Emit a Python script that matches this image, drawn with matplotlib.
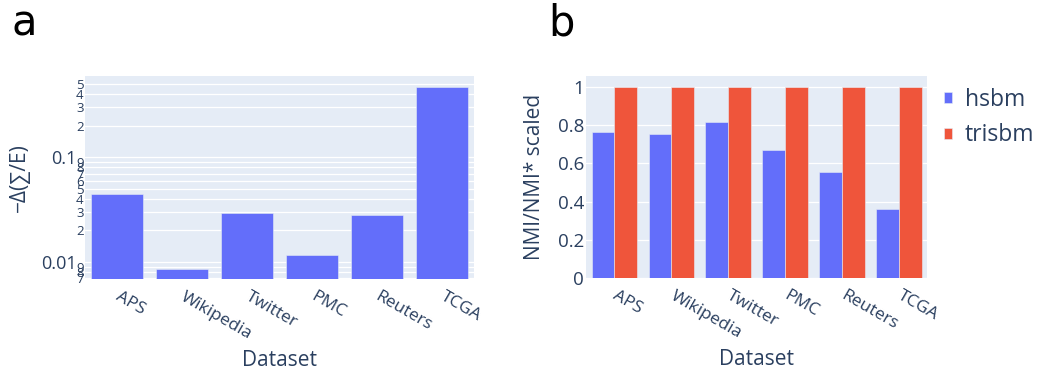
import numpy as np
import matplotlib
matplotlib.use("Agg")
import matplotlib.pyplot as plt
from matplotlib.patches import Patch
from matplotlib.ticker import FixedLocator, FixedFormatter

plt.rcParams['font.family'] = ['Open Sans', 'DejaVu Sans']

# data
datasets = ["APS", "Wikipedia", "Twitter", "PMC", "Reuters", "TCGA"]
delta_desc = [0.0446, 0.00857, 0.0294, 0.0116, 0.0281, 0.472]
hsbm = [0.764, 0.753, 0.816, 0.668, 0.556, 0.360]
trisbm = [1, 1, 1, 1, 1, 1]

BG = "#E5ECF6"
TXT = "#2a3f5f"
BLUE = "#636EFA"
RED = "#EF553B"

fig = plt.figure(figsize=(10.4, 3.76), dpi=100)
W, H = 1040, 376

def add_axes(x0, x1, y0, y1):
    return fig.add_axes([x0 / W, 1 - y1 / H, (x1 - x0) / W, (y1 - y0) / H])

def style(ax):
    ax.set_facecolor(BG)
    for s in ax.spines.values():
        s.set_visible(False)
    ax.set_axisbelow(True)
    ax.tick_params(which="both", length=0, colors=TXT)

x = np.arange(len(datasets))

# %% panel a
ax1 = add_axes(85, 474, 76, 279)
style(ax1)
ax1.bar(x, delta_desc, width=0.8, color=BLUE, edgecolor=BG, linewidth=0.4)
ax1.set_yscale("log")
ax1.set_ylim(10 ** -2.162, 10 ** -0.224)
ax1.set_xlim(-0.5, len(datasets) - 0.5)

lo, hi = ax1.get_ylim()
major = [0.01, 0.1]
minor, minor_lab = [], []
for d in [-3, -2, -1]:
    for k in range(2, 10):
        v = k * 10.0 ** d
        if lo <= v <= hi:
            minor.append(v)
            minor_lab.append(str(k))
ax1.yaxis.set_major_locator(FixedLocator(major))
ax1.yaxis.set_major_formatter(FixedFormatter(["0.01", "0.1"]))
ax1.yaxis.set_minor_locator(FixedLocator(minor))
ax1.yaxis.set_minor_formatter(FixedFormatter(minor_lab))
ax1.tick_params(axis="y", which="major", labelsize=13, pad=6)
ax1.tick_params(axis="y", which="minor", labelsize=9.5, pad=1)
ax1.grid(axis="y", which="both", color="white", linewidth=0.9)
ax1.set_ylabel("−Δ(∑/E)", fontsize=15, color=TXT, va="center")
ax1.yaxis.set_label_coords((19 - 85) / 389, 0.5)

# %% panel b
ax2 = add_axes(586, 927.3, 76, 278.3)
style(ax2)
ax2.bar(x - 0.2, hsbm, width=0.4, color=BLUE, edgecolor=BG, linewidth=0.4, label="hsbm")
ax2.bar(x + 0.2, trisbm, width=0.4, color=RED, edgecolor=BG, linewidth=0.4, label="trisbm")
ax2.set_ylim(0, 1.056)
ax2.set_xlim(-0.5, len(datasets) - 0.5)
yt = [0, 0.2, 0.4, 0.6, 0.8, 1]
ax2.set_yticks(yt)
ax2.set_yticklabels(["0", "0.2", "0.4", "0.6", "0.8", "1"])
ax2.tick_params(axis="y", labelsize=13.5, pad=1.5)
ax2.grid(axis="y", color="white", linewidth=0.9)
ax2.set_ylabel("NMI/NMI* scaled", fontsize=15, color=TXT, va="center")
ax2.yaxis.set_label_coords((535 - 586) / 341.3, 0.5)

for ax in (ax1, ax2):
    ax.set_xticks(x)
    ax.set_xticklabels(datasets, rotation=-30, ha="left", va="center",
                       rotation_mode="anchor", fontsize=12.5)
    ax.tick_params(axis="x", pad=12)
    ax.set_xlabel("Dataset", fontsize=15, color=TXT, va="center")
    ax.xaxis.set_label_coords(0.5, -(359 - 278) / 203)

handles = [Patch(facecolor=BLUE, edgecolor=BG, linewidth=0.4),
           Patch(facecolor=RED, edgecolor=BG, linewidth=0.4)]
leg = fig.legend(handles, ["hsbm", "trisbm"], loc="center left",
                 bbox_to_anchor=(944 / W, 1 - 117.5 / H), frameon=False,
                 fontsize=16.5, handlelength=0.36, handleheight=0.36,
                 handletextpad=0.55, labelspacing=0.5, borderpad=0,
                 borderaxespad=0)
for t in leg.get_texts():
    t.set_color(TXT)

fig.text(12 / W, 1 - 36 / H, "a", fontsize=30, family="DejaVu Sans",
         color="black", va="baseline")
fig.text(548 / W, 1 - 36 / H, "b", fontsize=30, family="DejaVu Sans",
         color="black", va="baseline")

fig.savefig("out.png", dpi=100)
